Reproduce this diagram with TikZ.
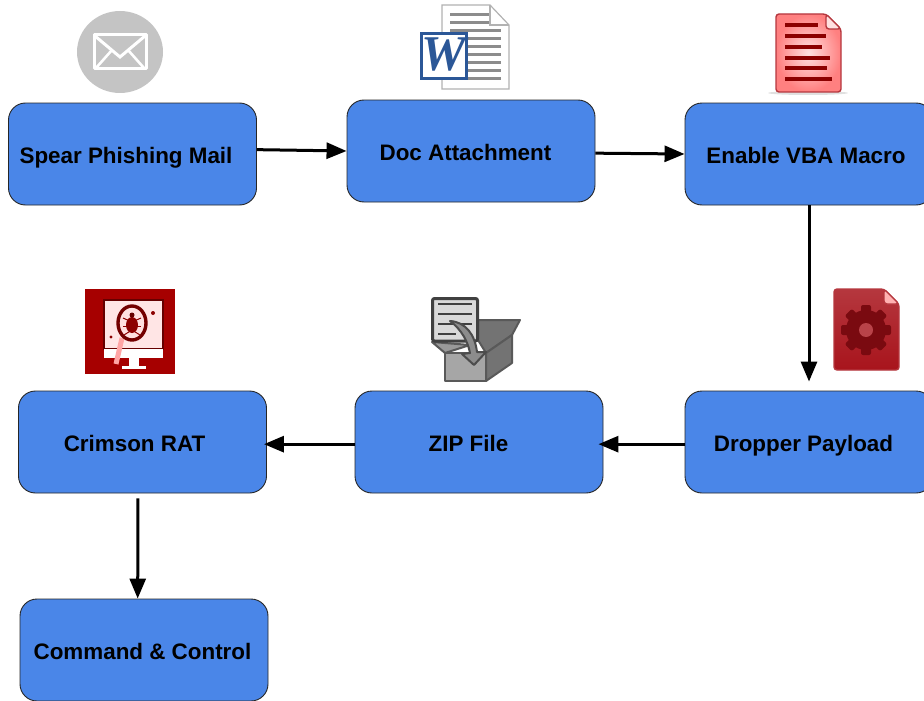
\documentclass[tikz,border=0pt]{standalone}
\usepackage{fontspec}
\setmainfont{Liberation Sans}
\newfontfamily\wordfont{Liberation Serif}
\usetikzlibrary{arrows.meta}
\definecolor{stageblue}{HTML}{4A86E8}
\definecolor{iconred}{HTML}{A8141C}
\definecolor{geardark}{HTML}{7A0A10}
\definecolor{wordblue}{HTML}{2B5797}
\tikzset{
    stagebox/.style={draw=black!85,line width=0.9pt,fill=stageblue,rounded corners=17pt,
        minimum width=248pt,minimum height=102pt,inner sep=0pt,text height=18pt,text depth=0pt,
        font=\fontsize{22.4}{26}\selectfont\bfseries},
    flow/.style={-{Triangle[length=20pt,width=16pt]},line width=3pt,black},
    pagered/.style={line width=1.4pt,draw=iconred!85,rounded corners=3pt},
    barred/.style={line width=4.5pt,red!55!black},
    bargray/.style={line width=3pt,black!45},
    boxline/.style={line width=2pt,draw=black!65,line join=round}
}
\begin{document}
\begin{tikzpicture}[x=1pt,y=-1pt]
    \useasboundingbox (0,0) rectangle (924,701);
    \clip (0,0) rectangle (924,701);

    % stages
    \node[stagebox] (spear) at (132.5,154) {\hspace*{-13pt}Spear Phishing Mail};
    \node[stagebox] (doc) at (471,151) {\hspace*{-11pt}Doc Attachment};
    \node[stagebox] (macro) at (809,154) {\hspace*{-6pt}Enable VBA Macro};
    \node[stagebox] (dropper) at (809,442) {\hspace*{-11pt}Dropper Payload};
    \node[stagebox] (zip) at (479,442) {\hspace*{-21pt}ZIP File};
    \node[stagebox] (crimson) at (142.5,442) {\hspace*{-16pt}Crimson RAT};
    \node[stagebox] (command) at (144,650) {\hspace*{-3pt}Command \& Control};

    % arrows
    \draw[flow] (spear.2) -- (doc.west);
    \draw[flow] (doc.-1) -- (macro.west);
    \draw[flow,shorten >=9pt] (macro.south) -- (dropper.north);
    \draw[flow,shorten >=-5pt] (dropper.181) -- (zip.-1);
    \draw[flow,shorten >=-3pt] (zip.181) -- (crimson.-1);
    \draw[flow,shorten <=5pt] (crimson.-95) -- (command.97);

    % mail icon
    \fill[black!23] (120,52) ellipse (43 and 41);
    \draw[white,line width=3pt,line join=round] (94,35) rectangle (146,69);
    \draw[white,line width=3pt] (95,36) -- (120,57) -- (145,36);
    \draw[white,line width=2.6pt] (96,68) -- (112,50) (144,68) -- (128,50);

    % word icon
    \draw[black!30,fill=white,line width=1.2pt] (442,5) -- (490,5) -- (509,25) -- (509,89) -- (442,89) -- cycle;
    \draw[black!30,line width=1.2pt] (490,5) -- (490,25) -- (509,25);
    \foreach \y in {15,23} \draw[bargray] (450,\y) -- (489,\y);
    \foreach \y in {31,39,...,79} \draw[bargray] (450,\y) -- (501,\y);
    \draw[wordblue,fill=white,line width=3pt] (421.5,33.5) rectangle (466.5,78.5);
    \node[inner sep=0pt,text=wordblue,font=\wordfont\fontsize{50}{50}\selectfont\bfseries\itshape] (wordw) at (444,55) {W};

    % macro page icon
    \fill[black!12] (808,93) ellipse (40 and 2);
    \draw[pagered,inner color=red!12!white,outer color=red!50!white] (776,14) -- (826,14) -- (841,29) -- (841,92) -- (776,92) -- cycle;
    \draw[pagered,fill=red!12] (826,14) -- (826,29) -- (841,29) -- cycle;
    \draw[barred] (785,25) -- (818,25);
    \draw[barred] (785,36) -- (826,36);
    \draw[barred] (785,47) -- (822,47);
    \draw[barred] (785,58) -- (830,58);
    \draw[barred] (785,68) -- (827,68);
    \draw[barred] (785,79) -- (832,79);

    % gear page icon
    \draw[pagered,top color=iconred!85!white,bottom color=iconred] (834,289) -- (884,289) -- (899,304) -- (899,370) -- (834,370) -- cycle;
    \draw[pagered,fill=red!30] (884,289) -- (884,304) -- (899,304) -- cycle;
    \fill[geardark] (866,330) circle (20);
    \foreach \a in {0,45,...,315}
        \fill[geardark,rounded corners=2pt,rotate around={\a:(866,330)}] (861,305) rectangle (871,316);
    \fill[iconred!80!white] (866,330) circle (7);

    % zip icon
    \draw[boxline,fill=black!55] (478,320) -- (520,320) -- (512,335) -- (486,353) -- (478,340) -- cycle;
    \draw[boxline,fill=black!40] (432,342) -- (470,345) -- (445,353) -- cycle;
    \draw[line width=3pt,black!75,fill=black!15,rounded corners=2pt] (432.5,298.5) rectangle (477.5,341);
    \foreach \y/\e in {304/472,314/472,324/472,334/456} \draw[line width=2.6pt,black!75] (438,\y) -- (\e,\y);
    \draw[boxline,fill=black!35] (445,353) rectangle (486,381);
    \draw[boxline,fill=black!55] (486,353) -- (512,335) -- (512,363) -- (486,381) -- cycle;
    \draw[boxline,draw=black!70,fill=black!45] (450,321) .. controls (466,322) and (475,335) .. (477,352) -- (486,352) -- (474,365) -- (462,354) -- (470,353) .. controls (468,342) and (462,330) .. (450,321) -- cycle;

    % crimson icon
    \fill[red!65!black] (85,289) rectangle (175,374);
    \draw[red!40!black,line width=1.4pt,fill=red!10] (104,300) rectangle (163,349);
    \fill[white] (104,349) rectangle (163,358);
    \fill[white] (129,358) rectangle (139,366);
    \fill[white] (122,366) rectangle (146,369);
    \draw[red!35,line width=5pt] (122,338) -- (116,364);
    \draw[red!45!black,line width=3.4pt,fill=red!12] (132,323) ellipse (14 and 17);
    \fill[red!55!black] (132,325) ellipse (6 and 8);
    \fill[red!40!black] (132,315) circle (2.5);
    \foreach \s in {-1,1} {
        \draw[red!55!black,line width=1pt] (132,322) -- ++(\s*9,-4);
        \draw[red!55!black,line width=1pt] (132,326) -- ++(\s*9,0);
        \draw[red!55!black,line width=1pt] (132,330) -- ++(\s*8,5);
    }
    \fill[red!55!black] (153,313) circle (2) (111,337) circle (1.6);
\end{tikzpicture}
\end{document}
